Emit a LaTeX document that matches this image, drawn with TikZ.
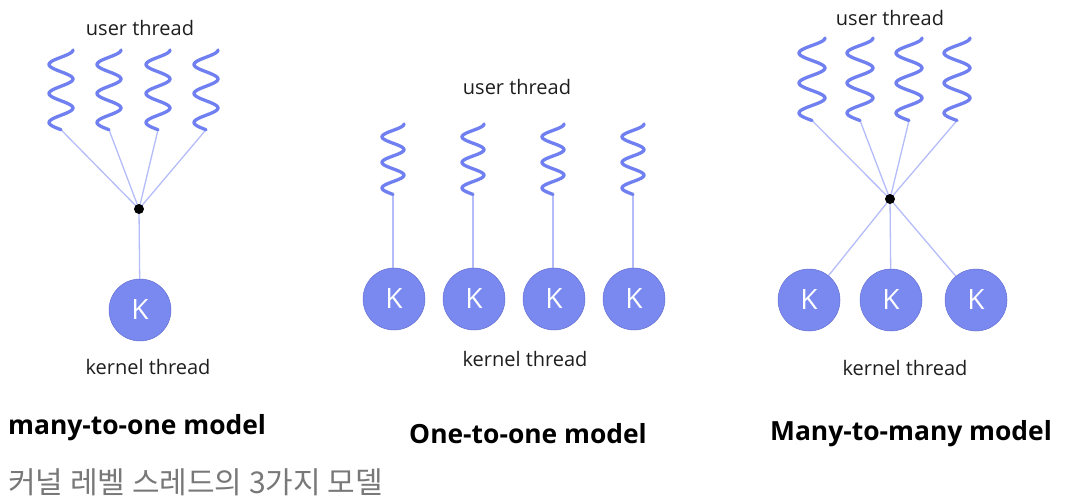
\documentclass[tikz,border=0pt]{standalone}
\usepackage{fontspec}
\setmainfont{Open Sans}
\newfontfamily\krfont{Noto Sans CJK KR}
\definecolor{squigc}{RGB}{112,128,240}
\definecolor{linkc}{RGB}{180,189,250}
\definecolor{kfill}{RGB}{122,137,240}
\definecolor{kdraw}{RGB}{100,112,210}
\definecolor{capgray}{RGB}{120,120,120}
\definecolor{txt}{RGB}{30,30,30}
\pgfdeclarelayer{bg}
\pgfsetlayers{bg,main}
\tikzset{
  squig/.style={draw=squigc, line width=3.3pt, line cap=round, line join=round},
  link/.style={draw=linkc, line width=1.3pt},
  knode/.style={circle, fill=kfill, draw=kdraw, line width=0.5pt, minimum size=62pt, inner sep=0pt, text=white, font=\fontsize{28}{28}\selectfont},
  hub/.style={circle, fill=black, minimum size=10pt, inner sep=0pt},
  lbl/.style={inner sep=0pt, text=txt, font=\fontsize{20}{21}\selectfont},
  ttl/.style={inner sep=0pt, text=black, font=\fontsize{26.4}{28}\bfseries\selectfont},
}
% \mysquig{center x}{top y}{half period}{amplitude}{name}
\newcommand{\mysquig}[5]{%
  \draw[squig] plot[domain=0:5.5, samples=80, smooth, variable=\u] ({#1+#4*cos(180*\u)}, {#2+#3*\u});
  \coordinate (#5) at ({#1+#4*cos(180*5.5)}, {#2+#3*5.5});
}
\begin{document}
\begin{tikzpicture}[x=1pt, y=-1pt]
\useasboundingbox (0,0) rectangle (1067,500);

% ---------- many-to-one ----------
\node[lbl] (lut) at (140,28) {user thread};
\mysquig{61}{50}{14.5}{12}{la}
\mysquig{109}{50}{14.5}{12}{lb}
\mysquig{158}{50}{14.5}{12}{lc}
\mysquig{206}{50}{14.5}{12}{ld}
\node[hub] (lhub) at (139,209) {};
\node[knode] (lk) at (140,310) {K};
\begin{pgfonlayer}{bg}
\foreach \s in {la,lb,lc,ld} \draw[link] (\s) -- (lhub.center);
\draw[link] (lhub.center) -- (lk);
\end{pgfonlayer}
\node[lbl] (lkt) at (148,367) {kernel thread};
\node[ttl, anchor=west] (lt) at (8,428) {many-to-one model};

% ---------- one-to-one ----------
\node[lbl] (mut) at (517,87) {user thread};
\mysquig{393}{124}{12.8}{11}{ma}
\mysquig{473}{124}{12.8}{11}{mb}
\mysquig{553}{124}{12.8}{11}{mc}
\mysquig{633}{124}{12.8}{11}{md}
\node[knode] (mk1) at (394,299) {K};
\node[knode] (mk2) at (474,299) {K};
\node[knode] (mk3) at (554,299) {K};
\node[knode] (mk4) at (634,299) {K};
\begin{pgfonlayer}{bg}
\draw[link] (ma) -- (ma |- mk1.north);
\draw[link] (mb) -- (mb |- mk2.north);
\draw[link] (mc) -- (mc |- mk3.north);
\draw[link] (md) -- (md |- mk4.north);
\end{pgfonlayer}
\node[lbl] (mkt) at (525,359) {kernel thread};
\node[ttl] (mt) at (528,434) {One-to-one model};

% ---------- many-to-many ----------
\node[lbl] (rut) at (890,18) {user thread};
\mysquig{812}{38}{15}{13}{ra}
\mysquig{860}{38}{15}{13}{rb}
\mysquig{909}{38}{15}{13}{rc}
\mysquig{957}{38}{15}{13}{rd}
\node[hub] (rhub) at (890,199) {};
\node[knode] (rk1) at (809,300) {K};
\node[knode] (rk2) at (891,300) {K};
\node[knode] (rk3) at (976,300) {K};
\begin{pgfonlayer}{bg}
\foreach \s in {ra,rb,rc,rd} \draw[link] (\s) -- (rhub.center);
\foreach \k in {rk1,rk2,rk3} \draw[link] (rhub.center) -- (\k);
\end{pgfonlayer}
\node[lbl] (rkt) at (905,368) {kernel thread};
\node[ttl] (rt) at (911,434) {Many-to-many model};

% ---------- caption ----------
\node[inner sep=0pt, anchor=west, text=capgray, font=\krfont\fontsize{30}{31}\selectfont] (cap) at (8,482) {커널 레벨 스레드의 3가지 모델};
\end{tikzpicture}
\end{document}
